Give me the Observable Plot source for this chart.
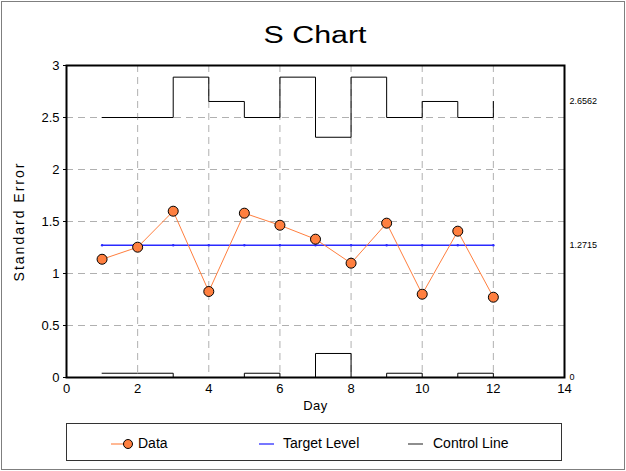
<!DOCTYPE html>
<html><head><meta charset="utf-8">
<script src="https://cdn.jsdelivr.net/npm/d3@7"></script>
<script src="https://cdn.jsdelivr.net/npm/@observablehq/plot@0.6"></script>
<style>
body{margin:0;font-family:"Liberation Sans",Arial,sans-serif;background:#fff;}
#fig{position:relative;width:626px;height:471px;background:#fff;overflow:hidden;}
#border{position:absolute;left:1px;top:1px;width:622px;height:467px;border:1px solid #7f7f7f;}
#title{position:absolute;left:0;top:22px;width:630px;text-align:center;font-size:23px;line-height:26px;transform:scaleX(1.32);transform-origin:315px 50%;}
#chart{position:absolute;left:0;top:50px;}
#legend{position:absolute;left:66px;top:423px;width:494px;height:36px;border:1px solid #333;font-size:14px;}
</style></head><body>
<div id="fig"><div id="border"></div><div id="title">S Chart</div><div id="chart"></div><div id="legend"></div></div>
<script>
const days = [1,2,3,4,5,6,7,8,9,10,11,12];
const sValues = [1.137,1.253,1.599,0.827,1.580,1.464,1.330,1.099,1.484,0.801,1.407,0.772];
const targetLevel = 1.2715;
const upperLimit = [2.5,2.5,2.888,2.654,2.5,2.888,2.31,2.888,2.5,2.654,2.5,2.654];
const lowerLimit = [0.041,0.041,0,0,0.041,0,0.231,0,0.041,0,0.041,0];
const xTicks = [0,2,4,6,8,10,12,14];
const yTicks = [0,0.5,1,1.5,2,2.5,3];
const refValues = [2.6562,1.2715,0];
const refLabels = ["2.6562","1.2715","0"];
const legendLabels = ["Data","Target Level","Control Line"];

const data = days.map((d,i)=>({day:d, s:sValues[i], ucl:upperLimit[i], lcl:lowerLimit[i], target:targetLevel}));
const gridStyle = {stroke:"#b0b0b0", strokeOpacity:1, strokeDasharray:"7,5"};
const chart = Plot.plot({
  width:626, height:365, marginTop:15, marginBottom:38, marginLeft:66, marginRight:62,
  style:{fontFamily:"Liberation Sans, Arial, sans-serif", fontSize:"13px", color:"#000", background:"transparent", overflow:"visible"},
  x:{domain:[0,14]}, y:{domain:[0,3]},
  marks:[
    Plot.gridX(xTicks.slice(1,-1), gridStyle),
    Plot.gridY(yTicks.slice(1,-1), gridStyle),
    Plot.axisX({ticks:xTicks, tickSize:0, tickPadding:6, label:"Day", labelAnchor:"center", labelArrow:"none", labelOffset:32, fontSize:13}),
    Plot.axisY({ticks:yTicks, tickSize:3, tickPadding:4, tickFormat:d=>String(d), label:"Standard Error", labelAnchor:"center", labelArrow:"none", labelOffset:52, fontSize:13}),
    Plot.line(data,{x:"day", y:"ucl", curve:"step-after", stroke:"black", strokeWidth:1}),
    Plot.line(data,{x:"day", y:"lcl", curve:"step-after", stroke:"black", strokeWidth:1}),
    Plot.line(data,{x:"day", y:"target", stroke:"#2a2aff", strokeWidth:1.5}),
    Plot.dot(data,{x:"day", y:"target", r:1.2, fill:"#2a2aff"}),
    Plot.line(data,{x:"day", y:"s", stroke:"#ff7f3f", strokeWidth:1}),
    Plot.dot(data,{x:"day", y:"s", r:5, fill:"#ff7f3f", stroke:"black", strokeWidth:1}),
    Plot.text(refValues, {x:14, y:d=>d, text:(d,i)=>refLabels[i], textAnchor:"start", dx:5, fontSize:9}),
    Plot.frame({stroke:"black", strokeWidth:2})
  ]
});
document.getElementById("chart").appendChild(chart);
d3.select(chart).selectAll('g[aria-label="y-axis label"] text').style("font-size","14px").style("letter-spacing","2px");
d3.select(chart).selectAll('g[aria-label="x-axis label"] text').style("letter-spacing","0.5px");

const leg = document.getElementById("legend");
const items = [
  {x:44, label:legendLabels[0], sym:'<line x1="0" x2="16" y1="6" y2="6" stroke="#ffa070" stroke-width="1.5"/><circle cx="17" cy="6" r="4.5" fill="#ff7f3f" stroke="#000"/>', w:23, tx:71},
  {x:192, label:legendLabels[1], sym:'<line x1="0" x2="15" y1="6" y2="6" stroke="#4a4aff" stroke-width="1.5"/>', w:16, tx:216},
  {x:341, label:legendLabels[2], sym:'<line x1="0" x2="15" y1="6" y2="6" stroke="#444" stroke-width="1.2"/>', w:16, tx:366}
];
items.forEach(it=>{
  const s = document.createElementNS("http://www.w3.org/2000/svg","svg");
  s.setAttribute("width", it.w); s.setAttribute("height", 12);
  s.style.position="absolute"; s.style.left=it.x+"px"; s.style.top="14px";
  s.innerHTML = it.sym;
  leg.appendChild(s);
  const t = document.createElement("div");
  t.textContent = it.label;
  t.style.position="absolute"; t.style.left=it.tx+"px"; t.style.top="11px"; t.style.lineHeight="16px"; t.style.whiteSpace="nowrap";
  leg.appendChild(t);
});
</script>
</body></html>
